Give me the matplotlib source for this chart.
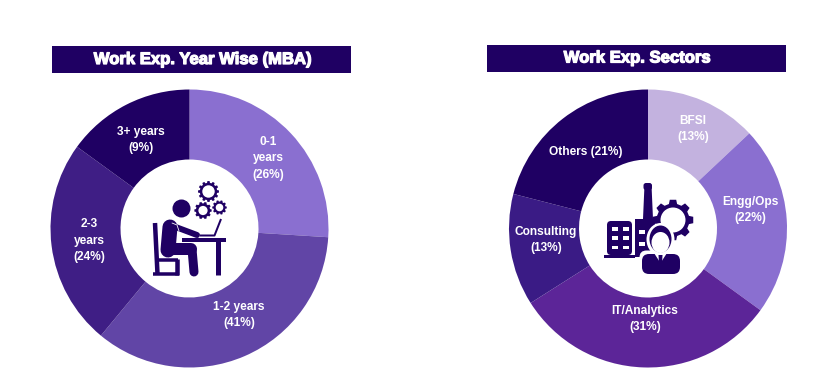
import numpy as np
import matplotlib
matplotlib.use('Agg')
import matplotlib.pyplot as plt
import matplotlib.patheffects as pe
from matplotlib.patches import Circle, Ellipse, Polygon, Rectangle, FancyBboxPatch

# slice sizes as drawn (the printed labels do not always agree with them)
year_shares = [26, 35, 24, 15]
year_labels = ['0-1\nyears\n(26%)', '1-2 years\n(41%)', '2-3\nyears\n(24%)', '3+ years\n(9%)']
year_colors = ['#8a6fd0', '#6145a6', '#3f1e85', '#1f0063']

sector_shares = [13, 22, 31, 13, 21]
sector_labels = ['BFSI\n(13%)', 'Engg/Ops\n(22%)', 'IT/Analytics\n(31%)', 'Consulting\n(13%)', 'Others (21%)']
sector_colors = ['#c3b2df', '#8a6fd0', '#5c2598', '#3a1b85', '#1f0063']

DARK = '#1f0063'
W, H = 840, 389

fig = plt.figure(figsize=(W / 100, H / 100), dpi=100, facecolor='white')


# draw one donut, box is given in image pixels
def donut(cx, cy, shares, colors):
    r = 139
    ax = fig.add_axes([(cx - r) / W, (H - cy - r) / H, 2 * r / W, 2 * r / H])
    ax.pie(shares, colors=colors, startangle=90, counterclock=False, radius=1,
           wedgeprops={'width': 1 - 69 / 139, 'linewidth': 0})
    ax.set_xlim(-1, 1)
    ax.set_ylim(-1, 1)
    ax.axis('off')


donut(189.5, 228.5, year_shares, year_colors)
donut(648, 228.5, sector_shares, sector_colors)

# overlay in image pixels for title bars, labels and the icons
ov = fig.add_axes([0, 0, 1, 1], zorder=5)
ov.set_xlim(0, W)
ov.set_ylim(H, 0)
ov.axis('off')
ov.patch.set_alpha(0)

# title bars
ov.add_patch(Rectangle((52, 46), 299, 27, fc=DARK, ec='none'))
ov.add_patch(Rectangle((487, 45), 299, 27, fc=DARK, ec='none'))
for x, y, s in [(202.5, 59.5, 'Work Exp. Year Wise (MBA)'), (637, 58, 'Work Exp. Sectors')]:
    ov.text(x, y, s, color='white', fontsize=12, fontweight='bold', family='Liberation Sans',
            ha='center', va='center',
            path_effects=[pe.withStroke(linewidth=0.9, foreground='white')])

# slice labels
year_pos = [(268, 158), (239, 315), (89, 240.5), (141, 140)]
sector_pos = [(693, 129), (750, 210), (645, 319), (546, 240), (586, 152)]
for (x, y), s in zip(year_pos + sector_pos, year_labels + sector_labels):
    ov.text(x, y, s, color='white', fontsize=8.6, fontweight='bold', family='Liberation Sans',
            ha='center', va='center', linespacing=1.5)


def stroke(pts, w, cap='round', color=DARK, z=6):
    xs, ys = zip(*pts)
    ov.plot(xs, ys, color=color, lw=w * 0.72, solid_capstyle=cap, solid_joinstyle='round', zorder=z)


def gear(cx, cy, r_out, r_in, r_hole, teeth, z=6, hole_color='white'):
    pts = []
    step = 2 * np.pi / teeth
    for i in range(teeth):
        a = i * step
        pts += [(a - 0.32 * step, r_in), (a - 0.2 * step, r_out), (a + 0.2 * step, r_out), (a + 0.32 * step, r_in)]
    poly = [(cx + rr * np.cos(a), cy + rr * np.sin(a)) for a, rr in pts]
    ov.add_patch(Polygon(poly, fc=DARK, ec='none', zorder=z))
    ov.add_patch(Circle((cx, cy), r_hole, fc=hole_color, ec='none', zorder=z))


# person at laptop icon
ov.add_patch(Circle((181.5, 208.5), 9, fc=DARK, ec='none', zorder=6))
gear(208.5, 191.5, 10.5, 8.7, 6.2, 12)
gear(203, 210.5, 8.7, 7.2, 4.6, 10)
gear(219.5, 207.5, 7.3, 6, 3.8, 10)
stroke([(155, 223), (157.5, 274)], 4.5, 'butt')
stroke([(157, 260), (178, 260)], 3.5, 'butt')
stroke([(153, 274), (179, 274)], 3.5, 'butt')
stroke([(177, 259), (177, 275)], 4.5, 'butt')
stroke([(170, 227), (168, 250)], 15)
stroke([(173, 226), (197, 235)], 6)
stroke([(170, 249), (191, 249)], 12)
stroke([(192, 249), (194, 272)], 9)
stroke([(182, 240), (226, 240)], 4, 'butt')
stroke([(218, 240), (218, 275)], 5, 'butt')
stroke([(200, 235.5), (214.5, 235.5), (221, 219)], 2, 'butt')
stroke([(172, 223), (177, 225), (179, 231)], 0.8, color='white', z=7)

# factory and manager icon
gear(673, 220, 20.5, 16.5, 12.5, 8, z=6)
ov.add_patch(FancyBboxPatch((607, 221), 25, 34, boxstyle='round,pad=0,rounding_size=4', fc=DARK, ec='none', zorder=6))
ov.add_patch(Rectangle((604, 255), 31, 2.5, fc=DARK, ec='none', zorder=6))
ov.add_patch(Rectangle((635, 219), 20, 38, fc=DARK, ec='none', zorder=6))
ov.add_patch(Polygon([(643, 219), (644.5, 185), (651.5, 185), (653, 219)], fc=DARK, ec='none', zorder=6))
ov.add_patch(FancyBboxPatch((643.5, 183), 8.5, 7, boxstyle='round,pad=0,rounding_size=2.5', fc=DARK, ec='none', zorder=6))
for wy in [229, 238, 247.5]:
    for wx in [612, 623]:
        ov.add_patch(Rectangle((wx, wy - 1.8), 5.5, 3.4, fc='white', ec='none', zorder=7))
for wy in [231.5, 243.5]:
    ov.add_patch(Rectangle((639, wy - 2), 6, 4, fc='white', ec='none', zorder=7))
ov.add_patch(FancyBboxPatch((639.5, 250.5), 42, 25, boxstyle='round,pad=0,rounding_size=7', fc='white', ec='none', zorder=8))
ov.add_patch(Ellipse((660.5, 239.5), 28, 33, fc='white', ec='none', zorder=8))
ov.add_patch(FancyBboxPatch((642, 254), 38, 20, boxstyle='round,pad=0,rounding_size=7', fc=DARK, ec='none', zorder=9))
ov.add_patch(Ellipse((660.5, 239), 22, 27, fc=DARK, ec='none', zorder=9))
ov.add_patch(Ellipse((660.5, 242.5), 18, 21, fc='white', ec='none', zorder=10))
ov.add_patch(Polygon([(654, 253), (667, 253), (660.5, 263)], fc='white', ec='none', zorder=10))
ov.add_patch(Polygon([(658.5, 255), (662.5, 255), (662, 264), (659, 264)], fc=DARK, ec='none', zorder=11))

fig.savefig('out.png', dpi=100, facecolor='white')
